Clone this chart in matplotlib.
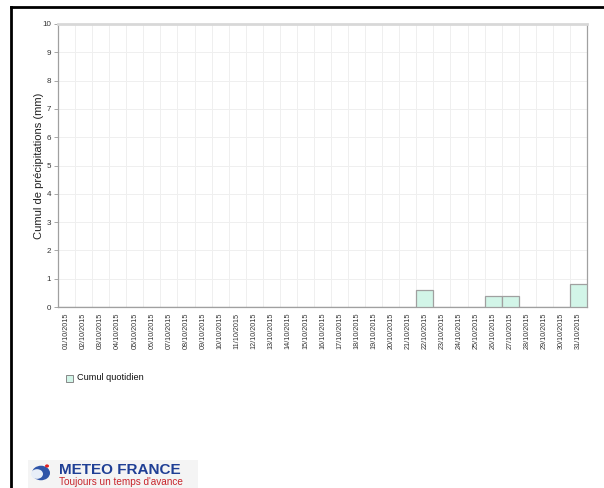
import matplotlib
matplotlib.use("Agg")
import matplotlib.pyplot as plt
from matplotlib.lines import Line2D
from matplotlib.patches import Rectangle, Circle

plt.rcParams['font.family'] = ['Liberation Sans', 'DejaVu Sans']

# daily rainfall, October 2015 (mm)
days = [f"{d:02d}/10/2015" for d in range(1, 32)]
rain = [0, 0, 0, 0, 0, 0, 0, 0, 0, 0,
        0, 0, 0, 0, 0, 0, 0, 0, 0, 0,
        0, 0.6, 0, 0, 0, 0.4, 0.4, 0, 0, 0,
        0.8]
yticks = list(range(0, 11))

W, H = 604, 488
fig = plt.figure(figsize=(W / 100, H / 100), dpi=100)
ax = fig.add_axes([58 / W, 1 - 307 / H, (587 - 58) / W, (307 - 24) / H])

x = list(range(len(days)))
ax.bar(x, rain, width=1.0, color="#d2f5e8", edgecolor="#a0a0a0", linewidth=0.9, zorder=3)

ax.set_xlim(-0.5, len(days) - 0.5)
ax.set_ylim(0, 10)
ax.set_yticks(yticks)
ax.set_xticks(x)
ax.set_xticklabels(days, rotation=90, fontsize=5.2, color="#333333")
ax.tick_params(axis='x', length=0, pad=4)
ax.tick_params(axis='y', length=3, width=0.6, color="#999999", labelsize=5.8,
               labelcolor="#333333", pad=2)

# grid: horizontal at each unit, vertical at day boundaries
for yv in yticks[1:]:
    ax.axhline(yv, color="#efefef", linewidth=0.7, zorder=1)
for i in range(1, len(days)):
    ax.axvline(i - 0.5, color="#efefef", linewidth=0.7, zorder=1)

for side in ["left", "bottom", "right"]:
    ax.spines[side].set_color("#a0a0a0")
    ax.spines[side].set_linewidth(0.9)
ax.spines["top"].set_color("#d8d8d8")
ax.spines["top"].set_linewidth(2)

ax.set_ylabel("Cumul de précipitations (mm)", fontsize=8, color="#222222", labelpad=-1)

# legend
fig.patches.append(Rectangle((66 / W, 1 - 382 / H), 7 / W, 7 / H, transform=fig.transFigure,
                             facecolor="#d2f5e8", edgecolor="#888888", linewidth=0.7))
fig.text(77 / W, 1 - 378 / H, "Cumul quotidien", fontsize=6.6, va="center", ha="left",
         color="#111111")

# frame lines
fig.add_artist(Line2D([11 / W, 1], [1 - 7 / H, 1 - 7 / H], transform=fig.transFigure,
                      color="black", linewidth=2))
fig.add_artist(Line2D([11 / W, 11 / W], [0, 1 - 7 / H], transform=fig.transFigure,
                      color="black", linewidth=2))

# logo
fig.patches.append(Rectangle((28 / W, 0), 170 / W, 28 / H, transform=fig.transFigure,
                             facecolor="#f4f4f4", edgecolor="none"))
fig.patches.append(Circle((41 / W, 1 - 473 / H), 9 / W, transform=fig.transFigure,
                          facecolor="#2f55a8", edgecolor="none"))
fig.patches.append(Circle((37 / W, 1 - 474 / H), 6 / W, transform=fig.transFigure,
                          facecolor="#e8eef8", edgecolor="none"))
fig.patches.append(Circle((47 / W, 1 - 466 / H), 2 / W, transform=fig.transFigure,
                          facecolor="#e02020", edgecolor="none"))
fig.text(59 / W, 1 - 470 / H, "METEO FRANCE", fontsize=11, fontweight="bold",
         color="#1f3f95", va="center", ha="left")
fig.text(59 / W, 1 - 482 / H, "Toujours un temps d'avance", fontsize=7.2,
         color="#c8262c", va="center", ha="left")

fig.savefig("out.png", dpi=100)
